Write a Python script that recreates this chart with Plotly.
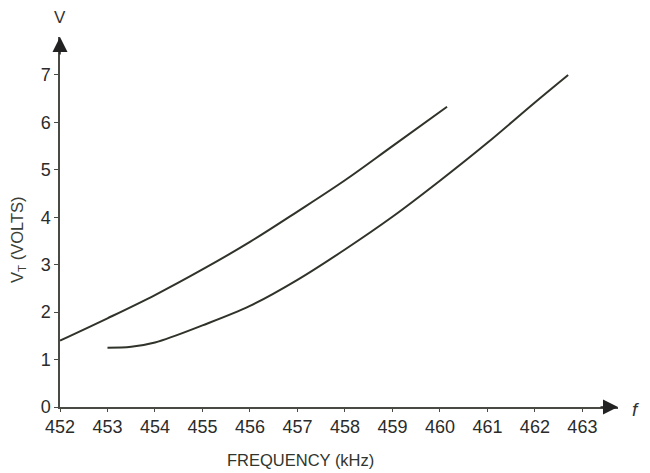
import plotly.graph_objects as go

# upper curve
freq_a = [452.0, 453.0, 454.0, 455.0, 456.0, 457.0, 458.0, 459.0, 460.15]
volt_a = [1.40, 1.87, 2.36, 2.90, 3.48, 4.12, 4.78, 5.50, 6.33]

# lower curve
freq_b = [453.0, 453.5, 454.0, 455.0, 456.0, 457.0, 458.0, 459.0, 460.0, 461.0, 462.0, 462.7]
volt_b = [1.25, 1.27, 1.36, 1.72, 2.13, 2.68, 3.32, 4.01, 4.77, 5.57, 6.42, 7.0]

x_ticks = list(range(452, 464))
y_ticks = list(range(0, 8))

FONT = "Liberation Sans, Arial, Helvetica, sans-serif"
INK = "#2f3329"
AXIS = "#4a4a44"

fig = go.Figure()
for fx, vy in [(freq_a, volt_a), (freq_b, volt_b)]:
    fig.add_trace(go.Scatter(
        x=fx, y=vy, mode="lines",
        line=dict(color=INK, width=2, shape="spline", smoothing=1.0),
        showlegend=False, hoverinfo="skip"
    ))

x_end = 463.75
y_end = 7.8

# the page body adds an 8px offset, so the figure is a bit smaller than the window
fig.update_layout(
    width=642, height=465,
    margin=dict(l=52, r=32, t=29, b=66),
    paper_bgcolor="white", plot_bgcolor="white",
    font=dict(family=FONT, size=18, color="#2b2b2b"),
    xaxis=dict(
        range=[452, x_end], tickvals=x_ticks, ticktext=[str(v) for v in x_ticks],
        showgrid=False, zeroline=False, showline=True, linecolor=AXIS, linewidth=1.5,
        ticks="outside", ticklen=3, tickwidth=1.2, tickcolor=AXIS,
        fixedrange=True
    ),
    yaxis=dict(
        range=[0, y_end], tickvals=y_ticks, ticktext=[str(v) for v in y_ticks],
        showgrid=False, zeroline=False, showline=True, linecolor=AXIS, linewidth=1.5,
        ticks="outside", ticklen=4, tickwidth=1.2, tickcolor=AXIS,
        fixedrange=True
    ),
)

annotations = [
    # axis arrowheads
    dict(x=x_end, y=0, ax=x_end - 0.4, ay=0, xref="x", yref="y", axref="x", ayref="y",
         showarrow=True, arrowhead=2, arrowsize=2, arrowwidth=1.5, arrowcolor="#222", text=""),
    dict(x=452, y=y_end, ax=452, ay=y_end - 0.4, xref="x", yref="y", axref="x", ayref="y",
         showarrow=True, arrowhead=2, arrowsize=2, arrowwidth=1.5, arrowcolor="#222", text=""),
    # axis end labels
    dict(x=0, y=1, xref="paper", yref="paper", text="V", showarrow=False,
         xanchor="center", yanchor="middle", yshift=20, font=dict(size=17, color="#333")),
    dict(x=1, y=0, xref="paper", yref="paper", text="<i>f</i>", showarrow=False,
         xanchor="center", yanchor="middle", xshift=17, yshift=-2, font=dict(size=19, color="#333")),
    # axis titles
    dict(x=(300 - 60) / 558, y=0, xref="paper", yref="paper", text="FREQUENCY (kHz)",
         showarrow=False, xanchor="center", yanchor="middle", yshift=-53,
         font=dict(size=16.5, color="#30352d")),
    dict(x=0, y=(407 - 240) / 370, xref="paper", yref="paper", text="V<sub>T</sub> (VOLTS)",
         showarrow=False, xanchor="center", yanchor="middle", xshift=-42, textangle=-90,
         font=dict(size=16.5, color="#3a4036")),
]
fig.update_layout(annotations=annotations)

fig.write_html("out.html")
